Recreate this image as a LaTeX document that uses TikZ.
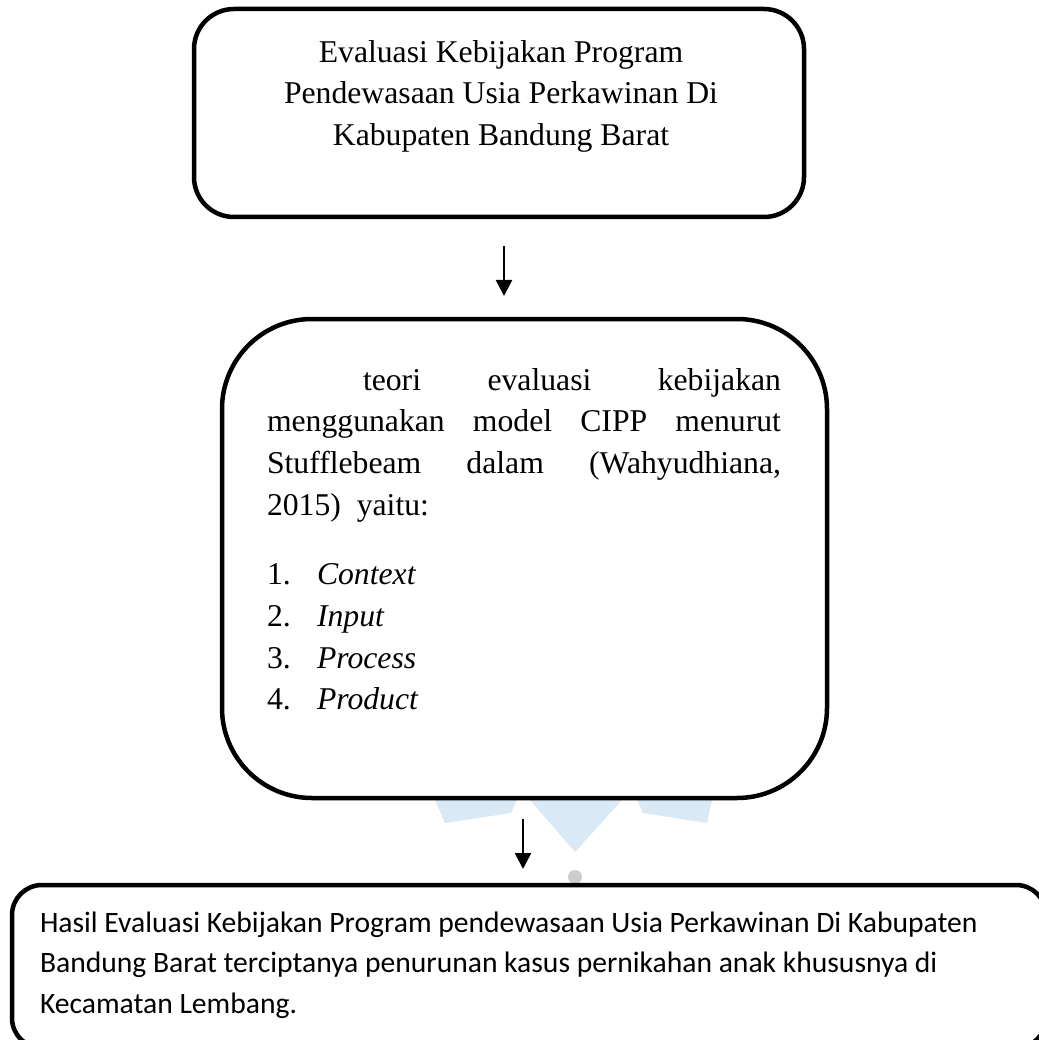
\documentclass[tikz,border=0pt]{standalone}
\usepackage{fontspec}
\setmainfont{Liberation Serif}
\newfontfamily\calib{Carlito}
\usetikzlibrary{arrows.meta}
\definecolor{wmblue}{RGB}{218,233,246}
\definecolor{wmgrey}{RGB}{205,205,205}
\begin{document}
\begin{tikzpicture}[x=1pt,y=-1pt,
  box/.style={draw=black,line width=4.5pt,fill=white,inner sep=0pt},
  arr/.style={line width=2.5pt,-{Triangle[length=16pt,width=16pt]}},
  txt/.style={inner sep=0pt,outer sep=0pt},
  wm/.style={fill=wmblue,draw=none}]
\useasboundingbox (0,0) rectangle (1038,1040);
\fill[white] (0,0) rectangle (1038,1040);
% faint watermark
\fill[wm] (435,800) -- (517,800) -- (511,813) -- (445,823) -- cycle;
\fill[wm] (530,800) -- (622,800) -- (575,852) -- cycle;
\fill[wm] (637,800) -- (712,800) -- (707,823) -- (643,813) -- cycle;
\fill[wmgrey] (575,877) circle (7pt);
% boxes
\node[box,rounded corners=40pt,minimum width=610pt,minimum height=208pt] (top) at (499,113) {};
\node[box,rounded corners=90pt,minimum width=605pt,minimum height=479pt] (mid) at (524.5,558.5) {};
\node[box,rounded corners=30pt,minimum width=1034pt,minimum height=163pt] (bot) at (529,966.5) {};
% texts
\node[txt,anchor=base] (toptext) at (501,62.5) {\parbox[t]{560pt}{\centering\fontsize{31.7}{41.5}\selectfont
Evaluasi Kebijakan Program\\
Pendewasaan Usia Perkawinan Di\\
Kabupaten Bandung Barat}};
\node[txt,anchor=base west] (midtext) at (267,390) {\parbox[t]{514pt}{\fontsize{31.7}{41.7}\selectfont\hyphenpenalty=10000
\hspace*{96pt}teori evaluasi kebijakan\linebreak menggunakan model CIPP menurut\linebreak Stufflebeam dalam (Wahyudhiana,\linebreak 2015)\ \ yaitu:\par
\vspace{28pt}
\makebox[50pt][l]{1.}\textit{Context}\par
\makebox[50pt][l]{2.}\textit{Input}\par
\makebox[50pt][l]{3.}\textit{Process}\par
\makebox[50pt][l]{4.}\textit{Product}}};
\node[txt,anchor=base west] (bottext) at (40,932) {\parbox[t]{1000pt}{\calib\fontsize{29.6}{40.5}\selectfont
Hasil Evaluasi Kebijakan Program pendewasaan Usia Perkawinan Di Kabupaten\\
Bandung Barat terciptanya penurunan kasus pernikahan anak khususnya di\\
Kecamatan Lembang.}};
% connectors
\coordinate (a1s) at (504,246);
\coordinate (a1e) at (504,296);
\coordinate (a2s) at (523,819);
\coordinate (a2e) at (523,869);
\draw[arr] (a1s) -- (a1e);
\draw[arr] (a2s) -- (a2e);
\end{tikzpicture}
\end{document}
